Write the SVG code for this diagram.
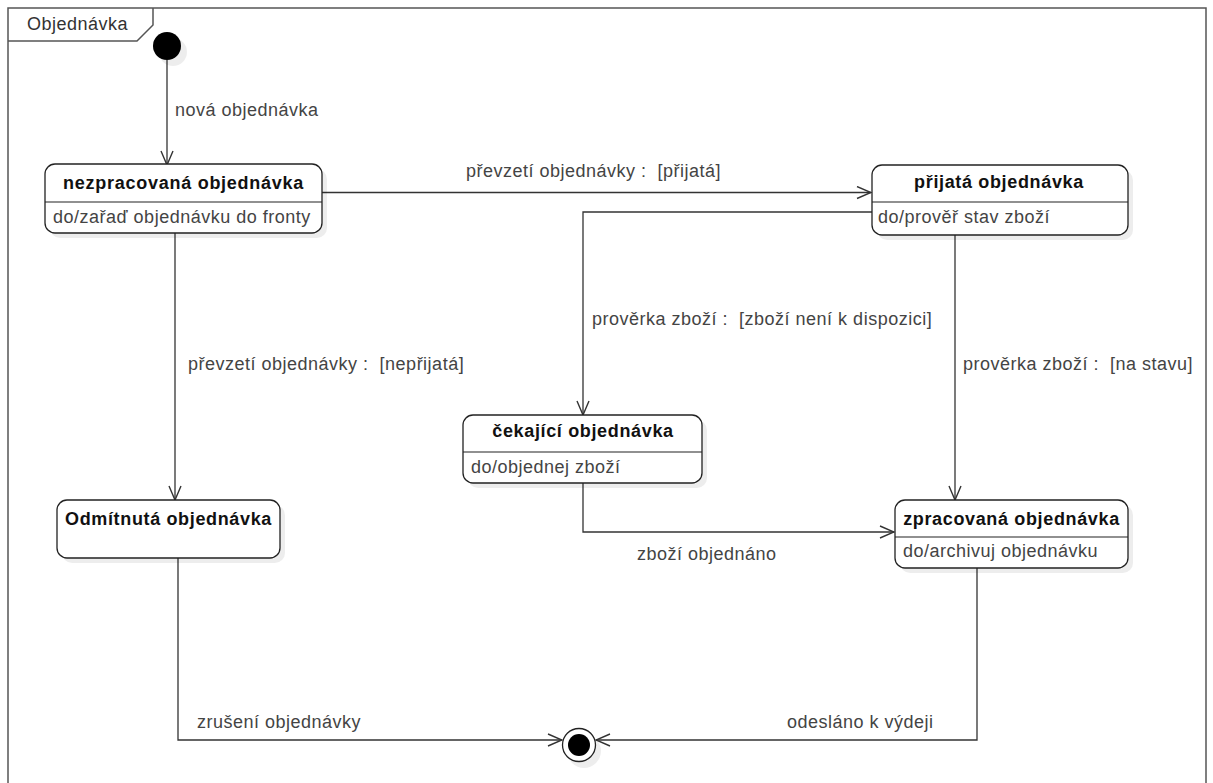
<svg xmlns="http://www.w3.org/2000/svg" width="1213" height="783" viewBox="0 0 1213 783">
  <defs>
    <marker id="open" viewBox="0 0 16 14" refX="15" refY="7" markerWidth="16" markerHeight="14" markerUnits="userSpaceOnUse" orient="auto">
      <path d="M1,1 L15,7 L1,13" fill="none" stroke="#333" stroke-width="1.4"/>
    </marker>
  </defs>
  <style>
    .frame { fill: none; stroke: #555; stroke-width: 1.5; }
    .shadow { fill: #000; opacity: 0.07; }
    .state { fill: #fff; stroke: #222; stroke-width: 1.3; }
    .div { stroke: #222; stroke-width: 1.2; }
    .edge { fill: none; stroke: #333; stroke-width: 1.3; marker-end: url(#open); }
    text { font-family: "Liberation Sans", Arial, sans-serif; font-size: 18px; letter-spacing: 0.5px; fill: #444; white-space: pre; }
    .title { font-weight: bold; fill: #111; text-anchor: middle; letter-spacing: 0.65px; }
  </style>

  <rect width="1213" height="783" fill="#fff"/>

  <!-- diagram frame with name tab -->
  <g id="frame">
    <path class="frame" d="M8,790 L8,8 L1206,8 L1206,790"/>
    <path class="frame" d="M8,41 L137,41 L153,25 L153,8"/>
    <text x="27" y="30" style="fill:#333">Objednávka</text>
  </g>

  <!-- connectors -->
  <g id="connectors">
    <path class="edge" d="M167,60 L167,165"/>
    <path class="edge" d="M322,192.5 L871,192.5"/>
    <path class="edge" d="M872,212 L583,212 L583,415"/>
    <path class="edge" d="M955,235 L955,500"/>
    <path class="edge" d="M175,233 L175,500"/>
    <path class="edge" d="M583,483 L583,532 L894,532"/>
    <path class="edge" d="M178,558 L178,740 L562,740"/>
    <path class="edge" d="M977,568 L977,740 L596,740"/>
    <text x="175" y="116" xml:space="preserve">nová objednávka</text>
    <text x="466" y="177" xml:space="preserve">převzetí objednávky :  [přijatá]</text>
    <text x="592" y="325" xml:space="preserve">prověrka zboží :  [zboží není k dispozici]</text>
    <text x="963" y="370" xml:space="preserve">prověrka zboží :  [na stavu]</text>
    <text x="188" y="370" xml:space="preserve">převzetí objednávky :  [nepřijatá]</text>
    <text x="637" y="560" xml:space="preserve">zboží objednáno</text>
    <text x="197" y="728" xml:space="preserve">zrušení objednávky</text>
    <text x="787" y="728" xml:space="preserve">odesláno k výdeji</text>
  </g>

  <!-- initial pseudostate -->
  <g id="initial">
    <circle class="shadow" cx="173" cy="52" r="14"/>
    <circle cx="167" cy="46" r="14" fill="#000"/>
  </g>

  <g id="nezpracovana">
    <rect class="shadow" x="50" y="169" width="277" height="69" rx="10"/>
    <rect class="state" x="45" y="164" width="277" height="69" rx="10"/>
    <line class="div" x1="45" y1="202" x2="322" y2="202"/>
    <text class="title" x="183.5" y="189" textLength="241" lengthAdjust="spacing">nezpracovaná objednávka</text>
    <text x="53" y="223">do/zařaď objednávku do fronty</text>
  </g>

  <g id="prijata">
    <rect class="shadow" x="877" y="170" width="256" height="70" rx="10"/>
    <rect class="state" x="872" y="165" width="256" height="70" rx="10"/>
    <line class="div" x1="872" y1="202" x2="1128" y2="202"/>
    <text class="title" x="999" y="188">přijatá objednávka</text>
    <text x="878" y="223">do/prověř stav zboží</text>
  </g>

  <g id="cekajici">
    <rect class="shadow" x="468" y="420" width="239" height="68" rx="10"/>
    <rect class="state" x="463" y="415" width="239" height="68" rx="10"/>
    <line class="div" x1="463" y1="452" x2="702" y2="452"/>
    <text class="title" x="583" y="437">čekající objednávka</text>
    <text x="471" y="473">do/objednej zboží</text>
  </g>

  <g id="zpracovana">
    <rect class="shadow" x="900" y="505" width="233" height="68" rx="10"/>
    <rect class="state" x="895" y="500" width="233" height="68" rx="10"/>
    <line class="div" x1="895" y1="537" x2="1128" y2="537"/>
    <text class="title" x="1011.5" y="525">zpracovaná objednávka</text>
    <text x="903" y="557">do/archivuj objednávku</text>
  </g>

  <g id="odmitnuta">
    <rect class="shadow" x="62" y="505" width="223" height="58" rx="10"/>
    <rect class="state" x="57" y="500" width="223" height="58" rx="10"/>
    <text class="title" x="168.5" y="525">Odmítnutá objednávka</text>
  </g>

  <!-- final state -->
  <g id="final">
    <circle class="shadow" cx="584" cy="751" r="17"/>
    <circle cx="579" cy="745" r="16.5" fill="#fff" stroke="#222" stroke-width="1.3"/>
    <circle cx="579" cy="745" r="11" fill="#000"/>
  </g>
</svg>
